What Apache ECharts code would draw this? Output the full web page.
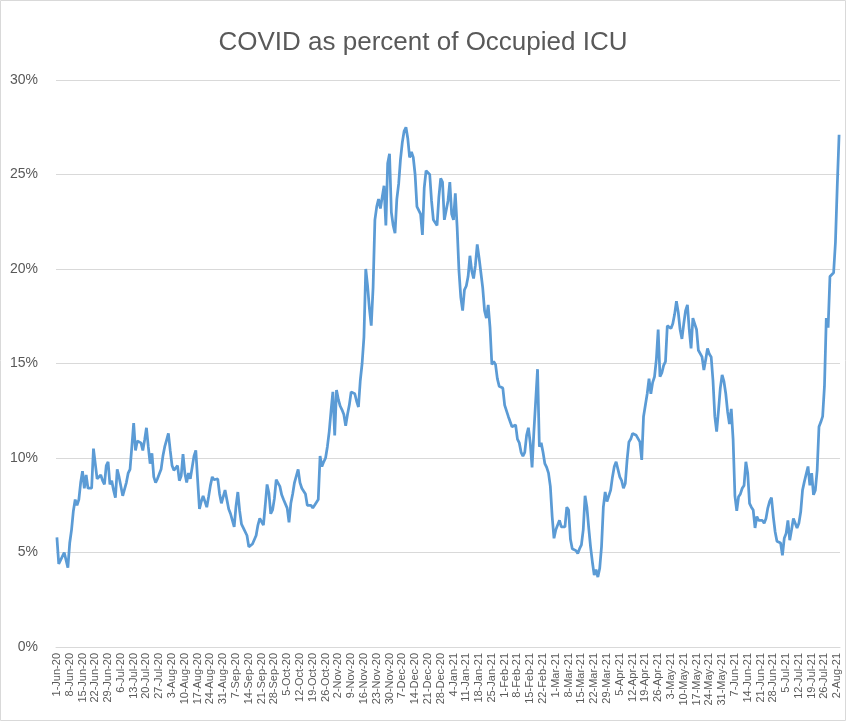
<!DOCTYPE html>
<html>
<head>
<meta charset="utf-8">
<title>COVID as percent of Occupied ICU</title>
<script src="https://cdn.jsdelivr.net/npm/echarts@6/dist/echarts.min.js"></script>
<style>
  html, body { margin: 0; padding: 0; background: #fff; }
  #chart { width: 846px; height: 721px; }
</style>
</head>
<body>
<div id="chart"></div>
<script>
// daily share of occupied ICU beds held by COVID patients (%), 1-Jun-20 onwards
const icuShare = [
  5.8, 4.4, 4.6, 4.7, 5.0, 4.9, 4.2, 5.5, 6.2, 7.2, 7.8, 7.5, 7.8, 8.7,
  9.3, 8.4, 9.1, 8.4, 8.4, 8.4, 10.5, 10.5, 8.9, 8.8, 9.1, 8.8, 8.6, 9.6,
  9.8, 8.6, 8.8, 8.3, 7.9, 9.4, 9.0, 8.5, 8.0, 7.9, 8.7, 9.2, 9.4, 10.6,
  11.85, 10.4, 10.9, 10.9, 10.8, 10.4, 10.95, 11.6, 10.6, 9.7, 10.25, 9.0, 8.7, 8.9,
  8.9, 9.4, 10.1, 10.6, 10.95, 11.3, 10.4, 9.6, 9.35, 9.35, 9.6, 8.8, 9.05, 10.2,
  9.2, 8.7, 9.2, 8.9, 9.0, 10.1, 10.4, 8.85, 7.3, 7.7, 8.0, 7.95, 7.4, 7.95,
  8.55, 9.0, 8.85, 8.9, 8.9, 8.1, 7.6, 7.7, 8.3, 8.4, 7.3, 7.05, 6.95, 6.35,
  7.45, 8.2, 7.2, 6.5, 6.3, 6.2, 5.9, 5.3, 5.4, 5.45, 5.5, 5.9, 6.45, 6.8,
  6.9, 6.45, 7.5, 8.6, 8.15, 7.05, 7.25, 7.85, 8.85, 8.75, 8.5, 8.05, 7.8, 7.7,
  7.35, 6.6, 7.6, 8.1, 8.7, 8.6, 9.4, 8.7, 8.4, 8.4, 8.1, 7.5, 7.5, 7.5,
  7.35, 7.5, 7.6, 7.8, 10.1, 9.55, 9.8, 10.0, 10.6, 11.4, 12.5, 13.5, 11.2, 13.6,
  13.1, 12.75, 12.55, 12.3, 11.7, 12.3, 12.8, 13.5, 13.55, 13.4, 13.0, 12.7, 14.1, 15.0,
  16.4, 20.0, 19.1, 17.9, 17.0, 19.0, 22.6, 23.3, 23.7, 23.2, 23.3, 24.4, 22.3, 25.6,
  26.1, 23.0, 22.3, 21.9, 23.7, 24.5, 25.8, 26.7, 27.3, 27.5, 26.9, 25.9, 26.2, 25.9,
  25.0, 23.3, 23.2, 22.9, 21.8, 24.3, 25.2, 25.3, 25.0, 23.6, 22.6, 22.5, 22.3, 23.8,
  24.8, 24.6, 22.6, 22.5, 23.6, 24.6, 22.9, 22.6, 24.0, 22.2, 19.9, 18.5, 17.8, 18.9,
  19.1, 19.6, 20.7, 19.9, 19.5, 20.2, 21.3, 20.6, 19.8, 19.0, 17.8, 17.4, 18.1, 16.9,
  14.95, 15.1, 14.95, 14.2, 13.8, 13.8, 13.7, 12.8, 12.9, 12.2, 12.1, 11.65, 11.65, 11.75,
  11.0, 10.8, 10.3, 10.1, 10.3, 11.2, 11.6, 10.8, 9.5, 11.4, 11.5, 14.7, 10.6, 10.8,
  10.3, 9.7, 9.5, 9.2, 8.5, 6.9, 5.75, 6.2, 6.45, 6.7, 6.35, 6.45, 6.35, 7.4,
  7.25, 5.7, 5.2, 5.3, 5.1, 4.95, 5.2, 5.4, 6.2, 8.0, 7.4, 6.3, 5.3, 4.5,
  3.8, 4.1, 3.7, 4.15, 5.3, 7.4, 8.2, 7.7, 7.6, 8.3, 9.0, 9.55, 9.8, 9.4,
  9.0, 8.8, 8.4, 8.65, 9.9, 10.85, 11.0, 11.3, 11.3, 11.2, 11.2, 10.85, 9.9, 12.2,
  12.1, 13.4, 14.2, 13.4, 14.0, 14.3, 15.2, 16.8, 14.3, 14.5, 14.9, 15.1, 17.0, 16.95,
  16.85, 17.1, 17.6, 18.3, 17.7, 16.8, 16.3, 17.1, 17.8, 18.1, 16.8, 15.8, 17.4, 17.1,
  16.8, 15.7, 15.6, 15.35, 14.65, 15.2, 15.8, 15.5, 15.35, 14.1, 12.2, 11.4, 12.5, 13.7,
  14.4, 14.05, 13.4, 12.45, 11.8, 12.6, 11.0, 8.0, 7.2, 7.95, 8.1, 8.4, 8.55, 9.8,
  9.2, 7.6, 7.4, 7.25, 6.3, 6.9, 6.7, 6.8, 6.7, 6.55, 6.8, 7.35, 7.7, 7.9,
  6.9, 6.1, 5.6, 5.5, 5.5, 4.85, 5.75, 6.0, 6.7, 5.65, 6.2, 6.8, 6.8, 6.3,
  6.55, 7.15, 8.3, 8.75, 8.75, 9.55, 8.55, 9.2, 8.05, 8.3, 9.35, 11.65, 11.9, 12.2,
  13.8, 17.4, 16.9, 19.6, 19.7, 19.8, 21.4, 24.4, 27.1
];

const monthNames = ['Jan', 'Feb', 'Mar', 'Apr', 'May', 'Jun', 'Jul', 'Aug', 'Sep', 'Oct', 'Nov', 'Dec'];
const firstDay = Date.UTC(2020, 5, 1);

// one category per day, labelled like 1-Jun-20
const dayLabels = icuShare.map((_, i) => {
    const d = new Date(firstDay + i * 86400000);
    return d.getUTCDate() + '-' + monthNames[d.getUTCMonth()] + '-' + String(d.getUTCFullYear()).slice(2);
});

const chart = echarts.init(document.getElementById('chart'));

chart.setOption({
    animation: false,
    title: {
        text: 'COVID as percent of Occupied ICU',
        left: 'center',
        top: 25,
        textStyle: { fontFamily: 'Liberation Sans', fontSize: 26, fontWeight: 'normal', color: '#595959' }
    },
    graphic: [{
        type: 'rect',
        shape: { x: 0.5, y: 0.5, width: 845, height: 720 },
        style: { fill: 'none', stroke: '#d9d9d9', lineWidth: 1 }
    }],
    grid: { left: 56, right: 6, top: 80, bottom: 74 },
    xAxis: {
        type: 'category',
        data: dayLabels,
        boundaryGap: true,
        axisLine: { lineStyle: { color: '#d9d9d9' } },
        axisTick: { interval: 6, alignWithLabel: true, length: 5, lineStyle: { color: '#d9d9d9' } },
        axisLabel: {
            interval: 6,
            rotate: 90,
            margin: 6,
            fontFamily: 'Liberation Sans',
            fontSize: 11,
            color: '#595959'
        }
    },
    yAxis: {
        type: 'value',
        min: 0,
        max: 30,
        interval: 5,
        axisLine: { show: false },
        axisTick: { show: false },
        axisLabel: { formatter: '{value}%', fontFamily: 'Liberation Sans', fontSize: 14, color: '#595959', margin: 18 },
        splitLine: { lineStyle: { color: '#d9d9d9', width: 1 } }
    },
    series: [{
        name: 'COVID share of occupied ICU',
        type: 'line',
        data: icuShare,
        showSymbol: false,
        lineStyle: { color: '#5b9bd5', width: 2.75 },
        itemStyle: { color: '#5b9bd5' }
    }]
});
</script>
</body>
</html>
